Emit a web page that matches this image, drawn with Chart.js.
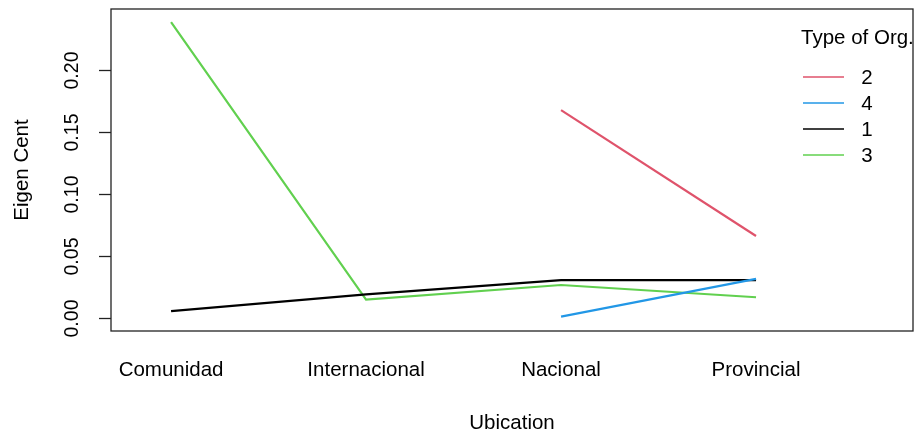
<!DOCTYPE html>
<html>
<head>
<meta charset="utf-8">
<script src="https://cdn.jsdelivr.net/npm/chart.js@4.4.1/dist/chart.umd.min.js"></script>
<style>
html,body{margin:0;padding:0;background:#fff;}
#wrap{width:915px;height:440px;position:relative;}
</style>
</head>
<body>
<div id="wrap"><canvas id="c" width="915" height="440"></canvas></div>
<script>
// ---- data ----
const categories = ["Comunidad", "Internacional", "Nacional", "Provincial"];
const seriesNames = ["2", "4", "1", "3"];
const series2 = [null, null, 0.168, 0.0665];
const series4 = [null, null, 0.0015, 0.032];
const series1 = [0.006, 0.0194, 0.031, 0.031];
const series3 = [0.239, 0.0152, 0.027, 0.0171];
const yTicks = [0.00, 0.05, 0.10, 0.15, 0.20];
const yTickLabels = ["0.00", "0.05", "0.10", "0.15", "0.20"];
const colors = ["#DF536B", "#2297E6", "#000000", "#61D04F"];

const FONT = '"Liberation Sans", Arial, sans-serif';
function pts(arr){ return arr.map((v,i)=>v===null?null:{x:i+1,y:v}).filter(p=>p!==null); }
const allSeries = [series2, series4, series1, series3];

const decor = {
  id: 'decor',
  afterDraw(chart){
    const ctx = chart.ctx, a = chart.chartArea;
    const xs = chart.scales.x, ys = chart.scales.y;
    ctx.save();
    // box
    ctx.strokeStyle = '#222'; ctx.lineWidth = 1.3;
    ctx.strokeRect(a.left, a.top, a.right - a.left, a.bottom - a.top);
    // y ticks
    ctx.fillStyle = '#000';
    ctx.font = '19.5px ' + FONT;
    yTicks.forEach((t,i)=>{
      const y = Math.round(ys.getPixelForValue(t)) + 0.5;
      ctx.beginPath(); ctx.moveTo(a.left - 12, y); ctx.lineTo(a.left, y); ctx.stroke();
      ctx.save(); ctx.translate(73, y); ctx.rotate(-Math.PI/2);
      ctx.textAlign = 'center'; ctx.textBaseline = 'middle';
      ctx.fillText(yTickLabels[i], 0, 0);
      ctx.restore();
    });
    // x labels
    ctx.font = '20.5px ' + FONT;
    ctx.textAlign = 'center'; ctx.textBaseline = 'middle';
    categories.forEach((c,i)=>{
      ctx.fillText(c, xs.getPixelForValue(i+1), 370);
    });
    // axis titles
    ctx.fillText('Ubication', (a.left + a.right)/2, 423);
    ctx.save(); ctx.translate(22, (a.top + a.bottom)/2); ctx.rotate(-Math.PI/2);
    ctx.fillText('Eigen Cent', 0, 0); ctx.restore();
    // legend
    ctx.textAlign = 'left';
    ctx.fillText('Type of Org.', 801, 38);
    const ly = [77, 103, 129, 155];
    seriesNames.forEach((n,i)=>{
      ctx.strokeStyle = colors[i]; ctx.lineWidth = 1.6;
      ctx.beginPath(); ctx.moveTo(803, ly[i]); ctx.lineTo(844, ly[i]); ctx.stroke();
      ctx.fillStyle = '#000';
      ctx.textAlign = 'center';
      ctx.fillText(n, 867, ly[i] + 1);
    });
    ctx.restore();
  }
};

new Chart(document.getElementById('c'), {
  type: 'line',
  data: {
    datasets: seriesNames.map((n,i)=>({
      label: n,
      data: pts(allSeries[i]),
      borderColor: colors[i],
      borderWidth: 2.2,
      pointRadius: 0,
      fill: false,
      tension: 0
    }))
  },
  options: {
    responsive: false,
    animation: false,
    events: [],
    layout: { padding: { left: 111, right: 2, top: 9, bottom: 109 } },
    plugins: { legend: { display: false }, tooltip: { enabled: false } },
    scales: {
      x: { type: 'linear', display: false, min: 0.692, max: 4.805 },
      y: { type: 'linear', display: false, min: -0.0101, max: 0.2496 }
    }
  },
  plugins: [decor]
});
</script>
</body>
</html>
